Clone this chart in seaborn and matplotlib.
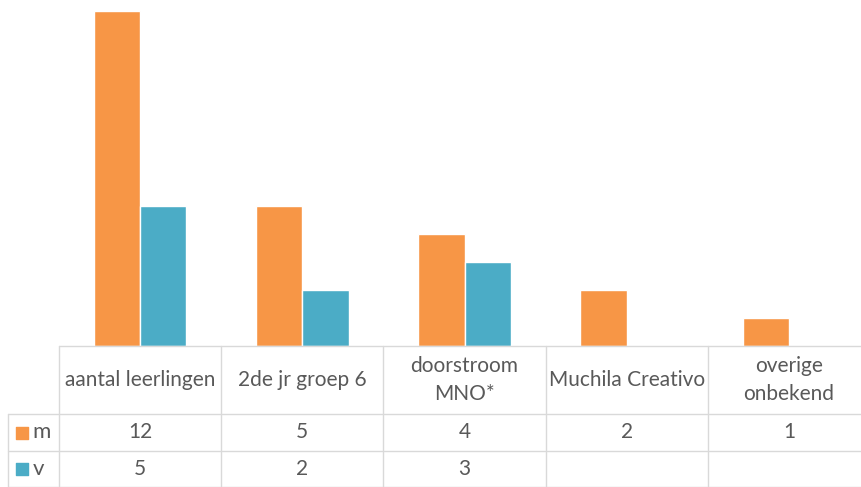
import matplotlib
matplotlib.use("Agg")
import matplotlib.pyplot as plt
import seaborn as sns
import numpy as np
import pandas as pd

categories = ['aantal leerlingen', '2de jr groep 6', 'doorstroom\nMNO*', 'Muchila Creativo', 'overige\nonbekend']
m_values = [12, 5, 4, 2, 1]
v_values = [5, 2, 3, np.nan, np.nan]
series = ['m', 'v']
colors = ['#F79646', '#4BACC6']

sns.set_style('white')
plt.rcParams['font.family'] = ['Lato', 'DejaVu Sans']
text_color = '#595959'
grid_color = '#D9D9D9'

df = pd.DataFrame({
    'cat': categories * 2,
    'serie': ['m'] * len(categories) + ['v'] * len(categories),
    'value': m_values + v_values,
})

fig = plt.figure(figsize=(8.61, 4.87), dpi=100)
# the table runs past the right edge of the picture, as in the original
ax = fig.add_axes([59 / 861, 141 / 487, 811 / 861, 346 / 487])
sns.barplot(data=df, x='cat', y='value', hue='serie', palette=colors,
            width=0.57, order=categories, hue_order=series, legend=False,
            ax=ax, saturation=1)
ax.set_ylim(0, 12.38)
ax.set_xlim(-0.5, len(categories) - 0.5)
ax.set_xticks([])
ax.set_yticks([])
ax.set_xlabel('')
ax.set_ylabel('')
sns.despine(ax=ax, left=True, bottom=True)

# data table under the chart
tr = ax.get_xaxis_transform()
n = len(categories)
y_head = -0.1965
y_m = -0.3035
y_v = -0.4075
x_left = -0.814
line_kw = dict(color=grid_color, lw=1, transform=tr, clip_on=False)
ax.plot([-0.5, n - 0.5], [0, 0], **line_kw)
ax.plot([x_left, n - 0.5], [y_head, y_head], **line_kw)
ax.plot([x_left, n - 0.5], [y_m, y_m], **line_kw)
ax.plot([x_left, n - 0.5], [y_v, y_v], **line_kw)
for i in range(n + 1):
    ax.plot([i - 0.5, i - 0.5], [0, y_v], **line_kw)
ax.plot([x_left, x_left], [y_head, y_v], **line_kw)

fs = 15
for i, cat in enumerate(categories):
    ax.text(i, y_head / 2, cat, ha='center', va='center', fontsize=fs,
            color=text_color, transform=tr, linespacing=1.45)
    for val, (y0, y1) in zip([m_values[i], v_values[i]], [(y_head, y_m), (y_m, y_v)]):
        if not np.isnan(val):
            ax.text(i, (y0 + y1) / 2, f'{val:g}', ha='center', va='center',
                    fontsize=fs, color=text_color, transform=tr)

for name, col, (y0, y1) in zip(series, colors, [(y_head, y_m), (y_m, y_v)]):
    yc = (y0 + y1) / 2
    ax.scatter([x_left + 0.088], [yc], marker='s', s=75, color=col,
               transform=tr, clip_on=False)
    ax.text(x_left + 0.152, yc, name, ha='left', va='center', fontsize=fs + 1,
            color=text_color, transform=tr)

fig.savefig('out.png', dpi=100)
